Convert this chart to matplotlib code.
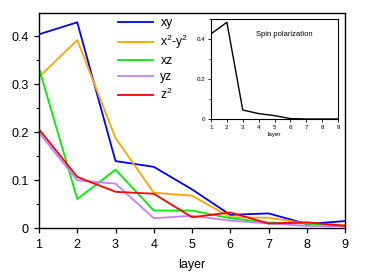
import matplotlib.pyplot as plt
from matplotlib.ticker import MultipleLocator

layers = [1, 2, 3, 4, 5, 6, 7, 8, 9]
xy = [0.404, 0.429, 0.140, 0.128, 0.081, 0.028, 0.031, 0.009, 0.015]
x2y2 = [0.315, 0.392, 0.188, 0.074, 0.068, 0.023, 0.022, 0.010, 0.007]
xz = [0.333, 0.061, 0.122, 0.037, 0.037, 0.021, 0.012, 0.010, 0.005]
yz = [0.199, 0.100, 0.093, 0.021, 0.026, 0.016, 0.010, 0.005, 0.004]
z2 = [0.206, 0.107, 0.076, 0.072, 0.023, 0.033, 0.010, 0.0125, 0.005]
spin = [0.427, 0.485, 0.045, 0.027, 0.017, 0.002, 0.0, 0.0, 0.0]

labels = ["xy", r"x$^2$-y$^2$", "xz", "yz", r"z$^2$"]
colors = ["#0000ff", "#ffa500", "#00ee00", "#c080ff", "#ff0000"]

plt.rcParams["font.family"] = "Liberation Sans"
plt.rcParams["mathtext.fontset"] = "custom"
plt.rcParams["mathtext.rm"] = "Liberation Sans"
plt.rcParams["mathtext.it"] = "Liberation Sans"

fig = plt.figure(figsize=(3.74, 2.75), dpi=100)
ax = fig.add_axes([39 / 374, 1 - 228.3 / 275, (345 - 39) / 374, (228.3 - 12.7) / 275])

for series, lab, col in zip([xy, x2y2, xz, yz, z2], labels, colors):
    ax.plot(layers, series, color=col, lw=1.3, label=lab)

ax.set_xlim(1, 9)
ax.set_ylim(0, 0.449)
ax.yaxis.set_minor_locator(MultipleLocator(0.05))
ax.set_yticks([0, 0.1, 0.2, 0.3, 0.4])
ax.set_yticklabels(["0", "0.1", "0.2", "0.3", "0.4"])
ax.tick_params(labelsize=9, direction="out", length=3.5, width=0.9, pad=4)
ax.tick_params(which="minor", direction="out", length=2, width=0.8)
ax.set_xlabel("layer", fontsize=9, labelpad=6)
for s in ax.spines.values():
    s.set_linewidth(1.0)

ax.legend(loc="upper left", bbox_to_anchor=(0.235, 1.012), frameon=False,
          fontsize=8.7, handlelength=2.9, handletextpad=0.6,
          labelspacing=0.32, borderaxespad=0.2)

# inset
ins = fig.add_axes([211 / 374, 1 - 119 / 275, (338 - 211) / 374, (119 - 19.3) / 275])
ins.plot(layers, spin, color="black", lw=1.0)
ins.set_xlim(1, 9)
ins.set_ylim(0, 0.5)
ins.set_xticks(layers)
ins.set_yticks([0, 0.2, 0.4])
ins.set_yticklabels(["0", "0.2", "0.4"])
ins.yaxis.set_minor_locator(MultipleLocator(0.1))
ins.tick_params(labelsize=4.5, direction="out", length=2, width=0.6, pad=2)
ins.tick_params(which="minor", direction="out", length=1.2, width=0.5)
ins.set_xlabel("layer", fontsize=4.5, labelpad=2)
ins.text(0.58, 0.85, "Spin polarization", transform=ins.transAxes,
         fontsize=5.5, ha="center", va="center")
for s in ins.spines.values():
    s.set_linewidth(0.8)

fig.savefig("out.png", dpi=100)
